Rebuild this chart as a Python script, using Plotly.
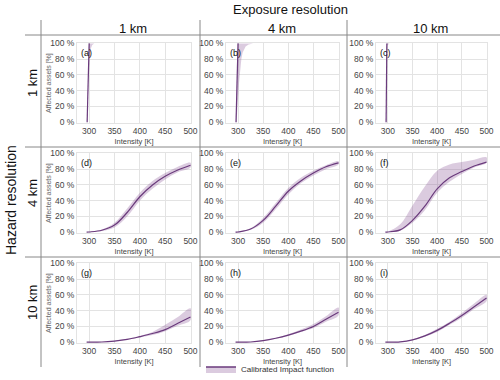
import plotly.graph_objects as go

W, H = 500, 380

# intensity grid for the smooth rows (hazard 4 km and 10 km)
intensity = [295, 300, 325, 350, 375, 400, 425, 450, 475, 500]

# row 2: hazard 4 km
d_mid = [0, 0.3, 2.5, 9, 25, 45, 60, 71, 79, 85]
d_up = [0, 0.5, 3.5, 12, 30, 50, 65, 75, 83, 88]
d_lo = [0, 0.2, 1.5, 6, 20, 40, 55, 67, 76, 82]
e_mid = [0, 0.3, 4, 15, 33, 52, 65, 75, 83, 88]
e_up = [0, 0.5, 5, 18, 37, 56, 69, 78, 85, 90]
e_lo = [0, 0.2, 3, 12, 29, 48, 62, 72, 80, 86]
f_mid = [0, 0.3, 3, 15, 33, 55, 69, 77, 84, 89]
f_up = [0, 0.6, 10, 34, 58, 78, 86, 89, 92, 95]
f_lo = [0, 0.2, 2, 12, 28, 50, 64, 74, 82, 88]

# row 3: hazard 10 km
g_mid = [0, 0, 0.3, 1.5, 3.5, 7, 11, 16, 24, 32]
g_up = [0, 0, 0.4, 2, 4.5, 8, 13, 22, 32, 43]
g_lo = [0, 0, 0.2, 1.2, 3, 6, 9, 14, 21, 28]
h_mid = [0, 0, 0.3, 2, 5, 9, 14, 20, 29, 38]
h_up = [0, 0, 0.4, 2.5, 5.5, 10, 16, 23, 33, 44]
h_lo = [0, 0, 0.2, 1.5, 4.5, 8, 13, 18, 26, 34]
i_mid = [0, 0, 0.5, 3, 8, 15, 24, 34, 45, 56]
i_up = [0, 0, 0.6, 3.5, 9, 17, 26, 37, 49, 60]
i_lo = [0, 0, 0.4, 2.5, 7, 13, 22, 31, 42, 52]

# row 1: hazard 1 km, near step functions
a_line_x = [296, 300]
a_line_y = [0, 100]
a_up_x = [295.5, 299.5]
a_up_y = [0, 100]
a_lo_x = [296.5, 299, 301, 303, 306, 310]
a_lo_y = [0, 60, 85, 93, 98, 100]

b_line_x = [296, 300]
b_line_y = [0, 100]
b_up_x = [295.5, 299]
b_up_y = [0, 100]
b_lo_x = [297, 300, 302, 304, 306.5, 309, 315, 321, 330]
b_lo_y = [0, 30, 50, 65, 80, 88, 96, 98.5, 100]

c_line_x = [296.5, 298]
c_line_y = [0, 100]
c_up_x = [296, 297.5]
c_up_y = [0, 100]
c_lo_x = [297, 298.5, 301, 303]
c_lo_y = [0, 97, 99, 100]

panel_letters = ["(a)", "(b)", "(c)", "(d)", "(e)", "(f)", "(g)", "(h)", "(i)"]
col_titles = ["1 km", "4 km", "10 km"]
row_titles = ["1 km", "4 km", "10 km"]
x_ticks = [300, 350, 400, 450, 500]
y_ticks = [0, 20, 40, 60, 80, 100]
y_ticklabels = ["0 %", "20 %", "40 %", "60 %", "80 %", "100 %"]

LINE = "#6a3a7c"
FILL = "rgba(125,70,140,0.28)"
FONT = "Liberation Sans, Arial, sans-serif"

# plot areas in pixels: (left, right) and (top, bottom)
col_px = [(77, 191), (226, 339), (376, 487)]
row_px = [(43, 123), (153, 233), (263, 343)]


def px_x(v):
    return v / W


def px_y(v):
    return 1 - v / H


panels = [
    (a_line_x, a_line_y, a_up_x, a_up_y, a_lo_x, a_lo_y),
    (b_line_x, b_line_y, b_up_x, b_up_y, b_lo_x, b_lo_y),
    (c_line_x, c_line_y, c_up_x, c_up_y, c_lo_x, c_lo_y),
    (intensity, d_mid, intensity, d_up, intensity, d_lo),
    (intensity, e_mid, intensity, e_up, intensity, e_lo),
    (intensity, f_mid, intensity, f_up, intensity, f_lo),
    (intensity, g_mid, intensity, g_up, intensity, g_lo),
    (intensity, h_mid, intensity, h_up, intensity, h_lo),
    (intensity, i_mid, intensity, i_up, intensity, i_lo),
]

fig = go.Figure()
annotations = []
axes = {}

for k, (lx, ly, ux, uy, lox, loy) in enumerate(panels):
    r, c = divmod(k, 3)
    n = k + 1
    xa = "x" if n == 1 else "x%d" % n
    ya = "y" if n == 1 else "y%d" % n
    shape = "linear" if r == 0 else "spline"
    # uncertainty band as a closed polygon
    fig.add_trace(go.Scatter(
        x=list(ux) + list(lox)[::-1], y=list(uy) + list(loy)[::-1],
        fill="toself", fillcolor=FILL, line=dict(width=0, shape=shape),
        mode="lines", hoverinfo="skip", showlegend=False, xaxis=xa, yaxis=ya))
    fig.add_trace(go.Scatter(
        x=lx, y=ly, mode="lines", line=dict(color=LINE, width=1.2, shape=shape),
        showlegend=False, xaxis=xa, yaxis=ya))

    common = dict(showgrid=True, gridcolor="#e3e3e3", gridwidth=1,
                  showline=True, linecolor="#e3e3e3", linewidth=1, mirror=True,
                  zeroline=False, ticks="", automargin=False,
                  tickfont=dict(size=8.5, color="#444"))
    x0, x1 = col_px[c]
    t0, t1 = row_px[r]
    axes["xaxis" + xa[1:]] = dict(
        common, domain=[px_x(x0), px_x(x1)], range=[276, 501],
        tickmode="array", tickvals=x_ticks, anchor=ya,
        title=dict(text="Intensity [K]", font=dict(size=7.5, color="#444"), standoff=3))
    axes["yaxis" + ya[1:]] = dict(
        common, domain=[px_y(t1), px_y(t0)], range=[-1, 100.5],
        tickmode="array", tickvals=y_ticks, ticktext=y_ticklabels, anchor=xa)
    if c == 0:
        annotations.append(dict(
            text="Affected assets [%]", xref="paper", yref="paper", textangle=-90,
            x=px_x(49), y=px_y((t0 + t1) / 2), xanchor="center", yanchor="middle",
            showarrow=False, font=dict(size=7, color="#666")))
    annotations.append(dict(
        text=panel_letters[k], xref="paper", yref="paper",
        x=px_x(x0 + 2), y=px_y(t0 + 3), xanchor="left", yanchor="top",
        showarrow=False, font=dict(size=9, color="#111")))

# legend-only entry
fig.add_trace(go.Scatter(
    x=[None], y=[None], mode="lines", fill="toself", fillcolor=FILL,
    line=dict(color=LINE, width=1.5), name="Calibrated Impact function"))

# headers
annotations.append(dict(text="Exposure resolution", xref="paper", yref="paper",
                        x=px_x(290), y=px_y(10), xanchor="center", yanchor="middle",
                        showarrow=False, font=dict(size=13, color="#111")))
for c, t in enumerate(col_titles):
    x0, x1 = col_px[c]
    annotations.append(dict(text=t, xref="paper", yref="paper",
                            x=px_x((x0 + x1) / 2 - 1), y=px_y(28),
                            xanchor="center", yanchor="middle", showarrow=False,
                            font=dict(size=13, color="#111")))
for r, t in enumerate(row_titles):
    t0, t1 = row_px[r]
    annotations.append(dict(text=t, xref="paper", yref="paper", textangle=-90,
                            x=px_x(32), y=px_y((t0 + t1) / 2),
                            xanchor="center", yanchor="middle", showarrow=False,
                            font=dict(size=13, color="#111")))
annotations.append(dict(text="Hazard resolution", xref="paper", yref="paper",
                        textangle=-90, x=px_x(11), y=px_y(200),
                        xanchor="center", yanchor="middle", showarrow=False,
                        font=dict(size=14, color="#111")))

# separator lines
shapes = []
for yy in [35, 147, 257]:
    shapes.append(dict(type="line", xref="paper", yref="paper",
                       x0=px_x(25), x1=1, y0=px_y(yy), y1=px_y(yy),
                       line=dict(color="#888", width=1)))
for xx in [41, 200, 347]:
    shapes.append(dict(type="line", xref="paper", yref="paper",
                       x0=px_x(xx), x1=px_x(xx), y0=px_y(20), y1=px_y(367),
                       line=dict(color="#888", width=1)))

fig.update_layout(
    width=W, height=H, margin=dict(l=0, r=0, t=0, b=0, autoexpand=False),
    paper_bgcolor="white", plot_bgcolor="white",
    font=dict(family=FONT),
    annotations=annotations, shapes=shapes,
    legend=dict(x=px_x(201), y=px_y(369), xanchor="left", yanchor="middle",
                bgcolor="rgba(0,0,0,0)", font=dict(size=8, color="#333"),
                itemwidth=30),
    **axes
)

fig.write_html("out.html", config={"displayModeBar": False},
               post_script="document.body.style.margin='0px';")
